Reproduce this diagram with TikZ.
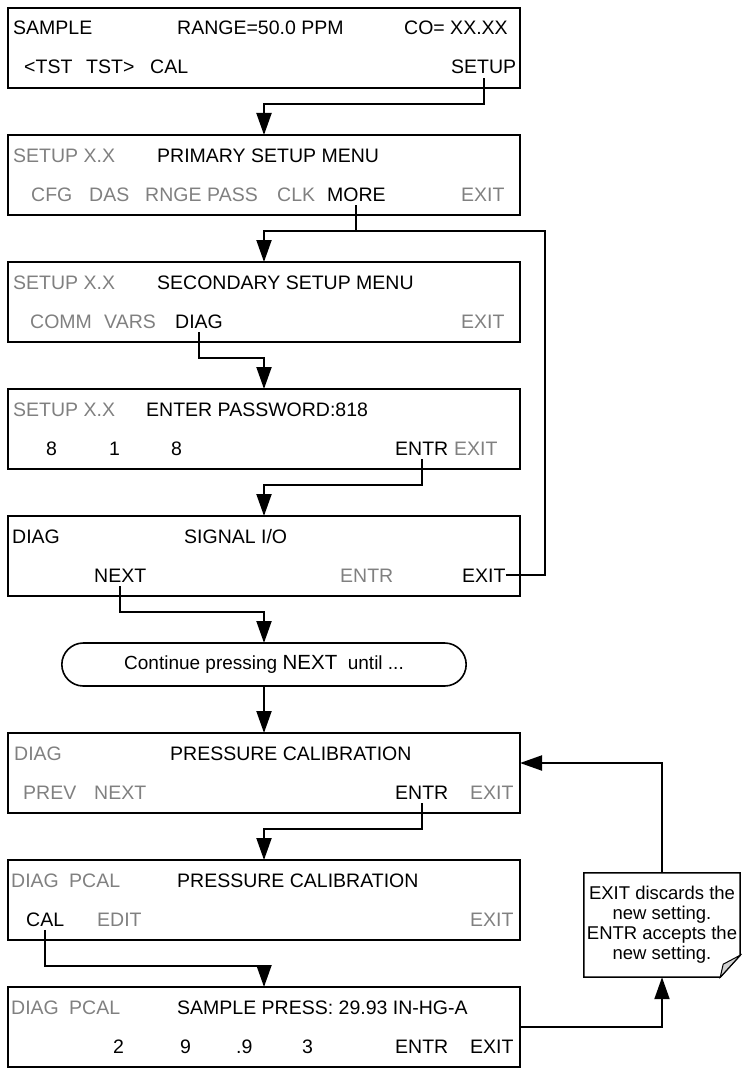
\documentclass[tikz,border=0pt]{standalone}
\usepackage{fontspec}
\setmainfont{Liberation Sans}
\usetikzlibrary{positioning,calc,arrows.meta,shapes.misc}
\definecolor{dimgray}{HTML}{808080}
\tikzset{panel/.style={draw,line width=2.4pt,outer sep=0pt,minimum width=512pt,minimum height=80pt,inner sep=0pt},
lbl/.style={anchor=base west,inner xsep=0pt,inner ysep=4pt,font=\fontsize{19.5}{20}\selectfont},
dim/.style={lbl,text=dimgray},
pill/.style={draw,rounded rectangle,outer sep=0pt,line width=1.6pt,minimum width=411pt,minimum height=43pt,font=\fontsize{19}{20}\selectfont},
notebox/.style={align=center,minimum width=156pt,minimum height=104pt,inner sep=0pt,font=\fontsize{18.5}{20}\selectfont},
link/.style={line width=2pt,-{Triangle[length=22pt,width=15pt]}},
wire/.style={line width=2pt}}

\begin{document}
\begin{tikzpicture}[x=1pt,y=-1pt,node distance=47pt]
\useasboundingbox (0,0) rectangle (741,1070);
\node[panel] (b1) at (264,48) {};
\node[panel,below=of b1] (prim) {};
\node[panel,below=of prim] (sec) {};
\node[panel,below=of sec] (pw) {};
\node[panel,below=of pw] (sig) {};
\node[pill,below=of sig] (pill) {Continue pressing {\fontsize{20.5}{21}\selectfont NEXT}\ \ until ...};
\node[panel,below=of pill] (press) {};
\node[panel,below=of press] (pcal) {};
\node[panel,below=of pcal] (smp) {};
\node[notebox] (note) at (662,925) {EXIT discards the\\new setting.\\ENTR accepts the\\new setting.};
% display texts
\foreach \t/\x/\y/\s [count=\i] in {SAMPLE/5/27/lbl,RANGE=50.0 PPM/169/27/lbl,CO= XX.XX/396/27/lbl,<TST/16/66/lbl,TST>/78/66/lbl,CAL/142/66/lbl}
  \node[\s] (b1-\i) at ($(b1.north west)+(\x,\y)$) {\t};
\node[lbl] (setup) at ($(b1.north west)+(443,66)$) {SETUP};
\foreach \t/\x/\y/\s [count=\i] in {SETUP X.X/5/27/dim,PRIMARY SETUP MENU/149/27/lbl,CFG/23/66/dim,DAS/81/66/dim,RNGE/137/66/dim,PASS/199/66/dim,CLK/269/66/dim,EXIT/453/66/dim}
  \node[\s] (prim-\i) at ($(prim.north west)+(\x,\y)$) {\t};
\node[lbl] (more) at ($(prim.north west)+(319,66)$) {MORE};
\foreach \t/\x/\y/\s [count=\i] in {SETUP X.X/5/27/dim,SECONDARY SETUP MENU/149/27/lbl,COMM/22/66/dim,VARS/96/66/dim,EXIT/453/66/dim}
  \node[\s] (sec-\i) at ($(sec.north west)+(\x,\y)$) {\t};
\node[lbl] (diag) at ($(sec.north west)+(167,66)$) {DIAG};
\foreach \t/\x/\y/\s [count=\i] in {SETUP X.X/5/27/dim,ENTER PASSWORD:818/138/27/lbl,8/38/66/lbl,1/101/66/lbl,8/163/66/lbl,EXIT/446/66/dim}
  \node[\s] (pw-\i) at ($(pw.north west)+(\x,\y)$) {\t};
\node[lbl] (pwentr) at ($(pw.north west)+(387,66)$) {ENTR};
\node[lbl] (sig-1) at ($(sig.north west)+(4,27)$) {DIAG};
\node[lbl] (sig-2) at ($(sig.north west)+(176,27)$) {SIGNAL I/O};
\node[dim] (sig-3) at ($(sig.north west)+(332,66)$) {ENTR};
\node[lbl] (signext) at ($(sig.north west)+(86,66)$) {NEXT};
\node[lbl] (sigexit) at ($(sig.north west)+(454,66)$) {EXIT};
\foreach \t/\x/\y/\s [count=\i] in {DIAG/6/27/dim,PRESSURE CALIBRATION/162/27/lbl,PREV/15/66/dim,NEXT/86/66/dim,EXIT/462/66/dim}
  \node[\s] (press-\i) at ($(press.north west)+(\x,\y)$) {\t};
\node[lbl] (prentr) at ($(press.north west)+(387,66)$) {ENTR};
\foreach \t/\x/\y/\s [count=\i] in {DIAG/3/27/dim,PCAL/61/27/dim,PRESSURE CALIBRATION/169/27/lbl,EDIT/89/66/dim,EXIT/462/66/dim}
  \node[\s] (pcal-\i) at ($(pcal.north west)+(\x,\y)$) {\t};
\node[lbl] (cal) at ($(pcal.north west)+(18,66)$) {CAL};
\foreach \t/\x/\y/\s [count=\i] in {DIAG/3/27/dim,PCAL/61/27/dim,SAMPLE PRESS: 29.93 IN-HG-A/169/27/lbl,2/105/66/lbl,9/172/66/lbl,.9/228/66/lbl,3/294/66/lbl,ENTR/387/66/lbl,EXIT/462/66/lbl}
  \node[\s] (smp-\i) at ($(smp.north west)+(\x,\y)$) {\t};
% connectors
\foreach \a/\b/\c/\r in {setup/b1/prim/.35,more/prim/sec/.35,diag/sec/pw/.35,pwentr/pw/sig/.35,signext/sig/pill/.35,prentr/press/pcal/.35,cal/pcal/smp/.55}
  \draw[link] (\a.south) |- ($(\b.south)!\r!(\c.north)$) -- (\c.north);
\draw[link] (pill.south) -- (press.north);
\coordinate (mj) at ($(prim.south)!.35!(sec.north)$);
\coordinate[xshift=25pt] (loopc) at (sig.east |- mj);
\draw[wire] (sigexit.east) -| (loopc) -- (more.south |- mj);
% note with folded corner
\draw[line width=1.5pt] (note.north west) -- (note.north east) -- ([yshift=22pt]note.south east) -- ([xshift=-20pt]note.south east) -- (note.south west) -- cycle;
\filldraw[line width=1pt,fill=gray!35] ([xshift=-20pt]note.south east) -- ([xshift=-17pt,yshift=13pt]note.south east) .. controls ([xshift=-8pt,yshift=17pt]note.south east) .. ([yshift=22pt]note.south east) -- cycle;
\draw[link] (smp.east) -| (note.south);
\draw[link] (note.north) |- ([yshift=10pt]press.east);
\end{tikzpicture}
\end{document}
